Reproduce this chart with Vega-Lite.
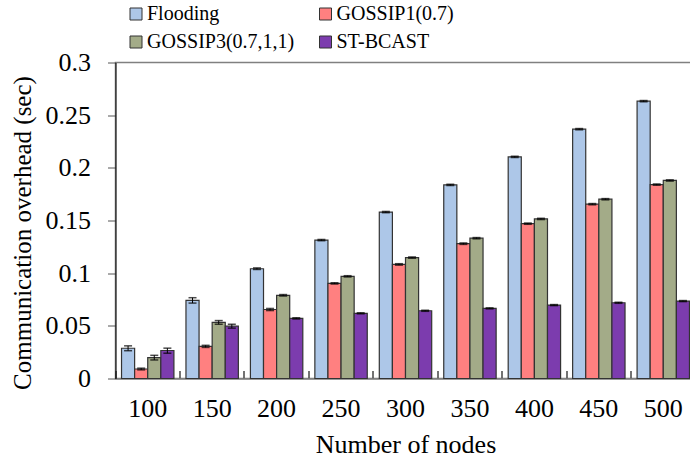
{
  "$schema": "https://vega.github.io/schema/vega-lite/v6.json",
  "width": 580,
  "height": 316,
  "autosize": {"type": "none"},
  "padding": {"left": 115.5, "top": 62.5, "right": 0, "bottom": 83.5},
  "background": "white",
  "config": {
    "view": {"stroke": "#808080", "strokeWidth": 1.5},
    "font": "Liberation Serif",
    "style": {
      "guide-label": {"font": "Liberation Serif", "fill": "black"},
      "guide-title": {"font": "Liberation Serif", "fill": "black"}
    },
    "axis": {"labelFont": "Liberation Serif", "titleFont": "Liberation Serif"},
    "legend": {"labelFont": "Liberation Serif", "titleFont": "Liberation Serif"}
  },
  "data": {
    "values": [
      {"n": 100, "s": "Flooding", "v": 0.0287, "lo": 0.0264, "hi": 0.0310},
      {"n": 100, "s": "GOSSIP1(0.7)", "v": 0.0090, "lo": 0.0082, "hi": 0.0098},
      {"n": 100, "s": "GOSSIP3(0.7,1,1)", "v": 0.0198, "lo": 0.0176, "hi": 0.0220},
      {"n": 100, "s": "ST-BCAST", "v": 0.0266, "lo": 0.0240, "hi": 0.0288},
      {"n": 150, "s": "Flooding", "v": 0.0742, "lo": 0.0716, "hi": 0.0767},
      {"n": 150, "s": "GOSSIP1(0.7)", "v": 0.0305, "lo": 0.0295, "hi": 0.0315},
      {"n": 150, "s": "GOSSIP3(0.7,1,1)", "v": 0.0533, "lo": 0.0515, "hi": 0.0550},
      {"n": 150, "s": "ST-BCAST", "v": 0.0497, "lo": 0.0478, "hi": 0.0515},
      {"n": 200, "s": "Flooding", "v": 0.1042, "lo": 0.1035, "hi": 0.1050},
      {"n": 200, "s": "GOSSIP1(0.7)", "v": 0.0655, "lo": 0.0645, "hi": 0.0665},
      {"n": 200, "s": "GOSSIP3(0.7,1,1)", "v": 0.0790, "lo": 0.0783, "hi": 0.0797},
      {"n": 200, "s": "ST-BCAST", "v": 0.0571, "lo": 0.0565, "hi": 0.0577},
      {"n": 250, "s": "Flooding", "v": 0.1314, "lo": 0.1308, "hi": 0.1320},
      {"n": 250, "s": "GOSSIP1(0.7)", "v": 0.0903, "lo": 0.0897, "hi": 0.0909},
      {"n": 250, "s": "GOSSIP3(0.7,1,1)", "v": 0.0970, "lo": 0.0964, "hi": 0.0976},
      {"n": 250, "s": "ST-BCAST", "v": 0.0619, "lo": 0.0614, "hi": 0.0624},
      {"n": 300, "s": "Flooding", "v": 0.1580, "lo": 0.1574, "hi": 0.1586},
      {"n": 300, "s": "GOSSIP1(0.7)", "v": 0.1083, "lo": 0.1076, "hi": 0.1090},
      {"n": 300, "s": "GOSSIP3(0.7,1,1)", "v": 0.1148, "lo": 0.1142, "hi": 0.1154},
      {"n": 300, "s": "ST-BCAST", "v": 0.0643, "lo": 0.0638, "hi": 0.0648},
      {"n": 350, "s": "Flooding", "v": 0.1838, "lo": 0.1832, "hi": 0.1844},
      {"n": 350, "s": "GOSSIP1(0.7)", "v": 0.1280, "lo": 0.1273, "hi": 0.1287},
      {"n": 350, "s": "GOSSIP3(0.7,1,1)", "v": 0.1332, "lo": 0.1326, "hi": 0.1338},
      {"n": 350, "s": "ST-BCAST", "v": 0.0666, "lo": 0.0661, "hi": 0.0671},
      {"n": 400, "s": "Flooding", "v": 0.2104, "lo": 0.2098, "hi": 0.2110},
      {"n": 400, "s": "GOSSIP1(0.7)", "v": 0.1470, "lo": 0.1464, "hi": 0.1476},
      {"n": 400, "s": "GOSSIP3(0.7,1,1)", "v": 0.1515, "lo": 0.1509, "hi": 0.1521},
      {"n": 400, "s": "ST-BCAST", "v": 0.0697, "lo": 0.0692, "hi": 0.0702},
      {"n": 450, "s": "Flooding", "v": 0.2367, "lo": 0.2361, "hi": 0.2373},
      {"n": 450, "s": "GOSSIP1(0.7)", "v": 0.1655, "lo": 0.1649, "hi": 0.1661},
      {"n": 450, "s": "GOSSIP3(0.7,1,1)", "v": 0.1702, "lo": 0.1696, "hi": 0.1708},
      {"n": 450, "s": "ST-BCAST", "v": 0.0719, "lo": 0.0714, "hi": 0.0724},
      {"n": 500, "s": "Flooding", "v": 0.2633, "lo": 0.2627, "hi": 0.2639},
      {"n": 500, "s": "GOSSIP1(0.7)", "v": 0.1841, "lo": 0.1835, "hi": 0.1847},
      {"n": 500, "s": "GOSSIP3(0.7,1,1)", "v": 0.1880, "lo": 0.1874, "hi": 0.1886},
      {"n": 500, "s": "ST-BCAST", "v": 0.0735, "lo": 0.0730, "hi": 0.0740}
    ]
  },
  "encoding": {
    "x": {
      "field": "n",
      "type": "ordinal",
      "scale": {"paddingInner": 0, "paddingOuter": 0},
      "axis": {
        "title": "Number of nodes",
        "titleFont": "Liberation Serif",
        "titleFontSize": 26,
        "titleFontWeight": "normal",
        "titleColor": "black",
        "titleY": 53,
        "labelAngle": 0,
        "labelFont": "Liberation Serif",
        "labelFontSize": 26,
        "labelColor": "black",
        "labelPadding": 25,
        "bandPosition": 0,
        "tickSize": -8,
        "tickWidth": 1.5,
        "tickColor": "#444",
        "domainColor": "#808080",
        "domainWidth": 1.5
      }
    },
    "xOffset": {
      "field": "s",
      "type": "nominal",
      "sort": ["Flooding", "GOSSIP1(0.7)", "GOSSIP3(0.7,1,1)", "ST-BCAST"],
      "scale": {"paddingInner": 0, "paddingOuter": 0.46}
    }
  },
  "layer": [
    {
      "mark": {"type": "bar", "stroke": "#333", "strokeWidth": 1.2},
      "encoding": {
        "y": {
          "field": "v",
          "type": "quantitative",
          "scale": {"domain": [0, 0.3], "nice": false},
          "axis": {
            "title": "Communication overhead (sec)",
            "titleFont": "Liberation Serif",
            "titleFontSize": 25,
            "titleFontWeight": "normal",
            "titleColor": "black",
            "titleX": -80,
            "titleY": 170,
            "values": [0, 0.05, 0.1, 0.15, 0.2, 0.25, 0.3],
            "format": ".2~f",
            "labelFont": "Liberation Serif",
            "labelFontSize": 26,
            "labelColor": "black",
            "labelPadding": 17,
            "tickSize": 8,
            "tickColor": "#555",
            "domainColor": "black",
            "grid": false
          }
        },
        "fill": {
          "field": "s",
          "type": "nominal",
          "sort": ["Flooding", "GOSSIP1(0.7)", "GOSSIP3(0.7,1,1)", "ST-BCAST"],
          "scale": {"range": ["#adc7e8", "#ff8080", "#a3ab88", "#7c3cae"]},
          "legend": {
            "title": null,
            "orient": "none",
            "direction": "horizontal",
            "legendX": 10.5,
            "legendY": -58.5,
            "columns": 2,
            "symbolType": "square",
            "symbolSize": 144,
            "symbolStrokeColor": "#333",
            "symbolStrokeWidth": 1,
            "labelFont": "Liberation Serif",
            "labelFontSize": 20,
            "labelColor": "black",
            "labelOffset": 1,
            "labelLimit": 300,
            "columnPadding": 20.5,
            "rowPadding": 8,
            "padding": 0
          }
        }
      }
    },
    {
      "mark": {"type": "rule", "color": "black", "strokeWidth": 1},
      "encoding": {
        "y": {"field": "lo", "type": "quantitative"},
        "y2": {"field": "hi"}
      }
    },
    {
      "mark": {"type": "tick", "color": "black", "size": 8, "thickness": 1.5},
      "encoding": {"y": {"field": "lo", "type": "quantitative"}}
    },
    {
      "mark": {"type": "tick", "color": "black", "size": 8, "thickness": 1.5},
      "encoding": {"y": {"field": "hi", "type": "quantitative"}}
    }
  ]
}
